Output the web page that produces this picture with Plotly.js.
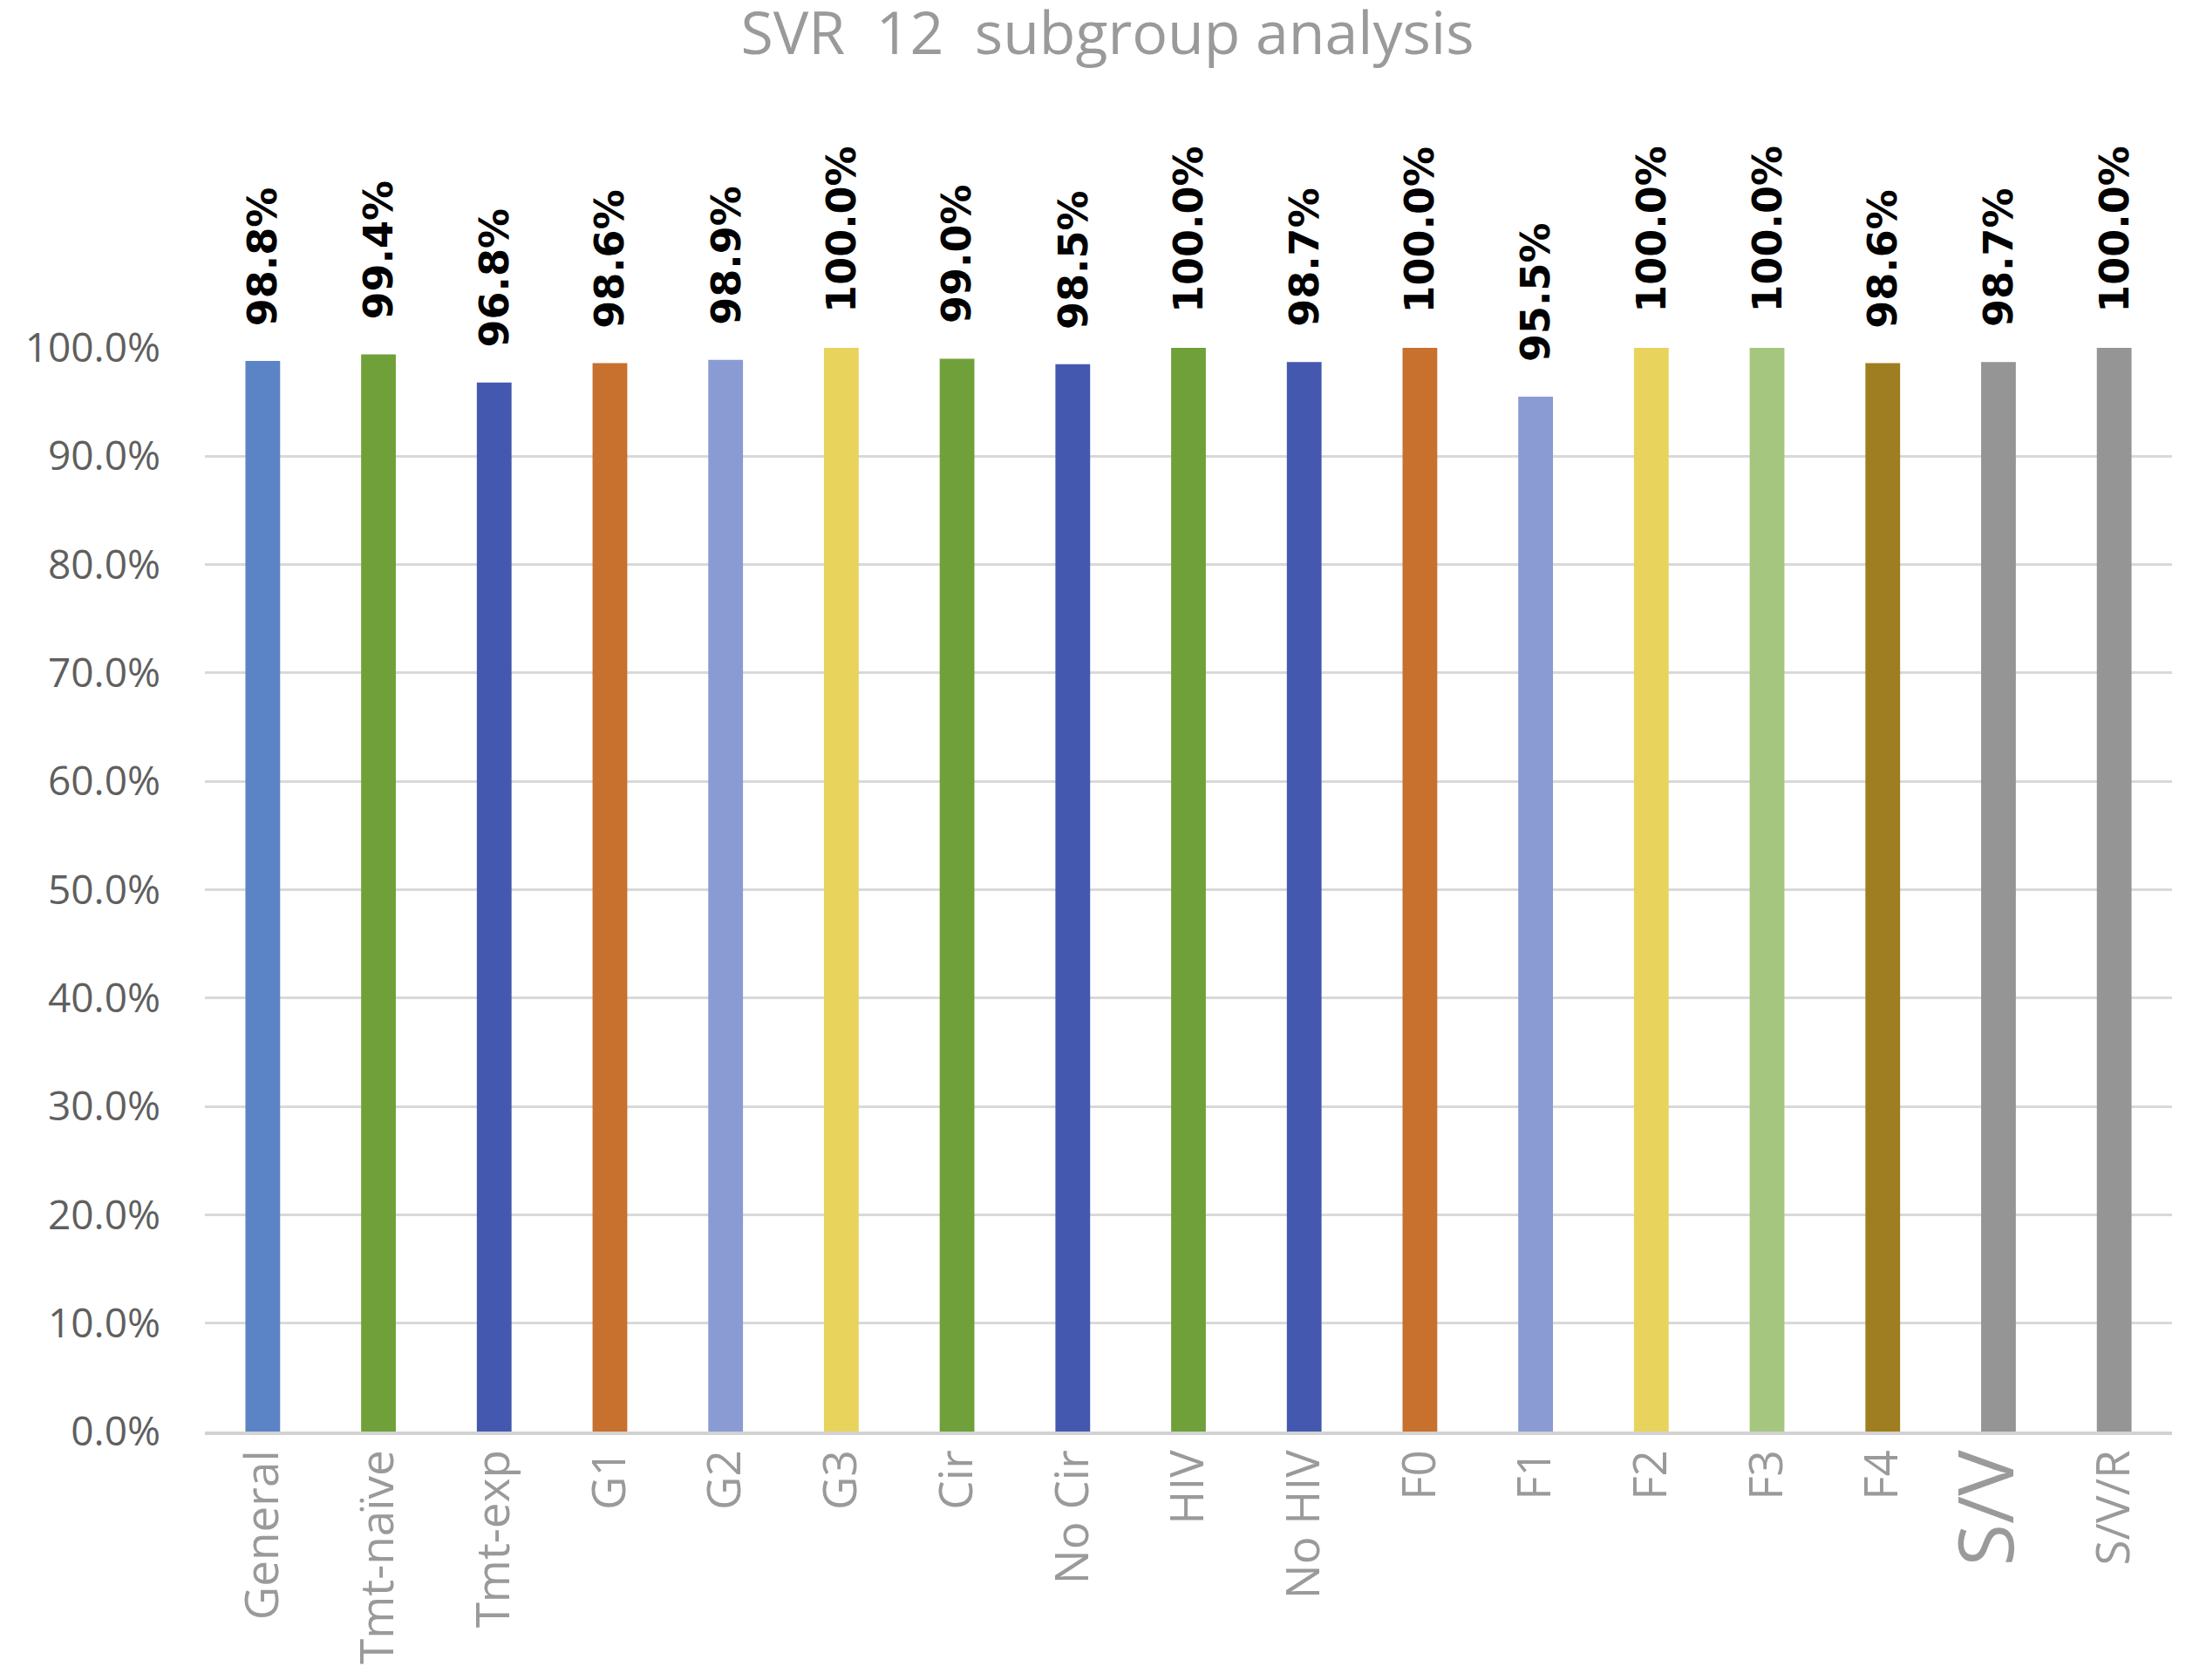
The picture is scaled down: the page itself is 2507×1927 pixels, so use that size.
<!DOCTYPE html>
<html>
<head>
<meta charset="utf-8">
<script src="https://cdn.plot.ly/plotly-3.0.1.min.js"></script>
<style>
  html, body { margin: 0; padding: 0; background: #ffffff; }
  #chart { width: 2507px; height: 1927px; }
</style>
</head>
<body>
<div id="chart"></div>
<script>
// Данные
const categories = [
  "General", "Tmt-naïve", "Tmt-exp", "G1", "G2", "G3", "Cir", "No Cir",
  "HIV", "No HIV", "F0", "F1", "F2", "F3", "F4", "S/V", "S/V/R"
];
const svrValues = [
  98.8, 99.4, 96.8, 98.6, 98.9, 100.0, 99.0, 98.5,
  100.0, 98.7, 100.0, 95.5, 100.0, 100.0, 98.6, 98.7, 100.0
];
const barColors = [
  "#5b84c6", "#70a03a", "#4558b0", "#c8702e", "#8a9bd3", "#e8d35c",
  "#70a03a", "#4558b0", "#70a03a", "#4558b0", "#c8702e", "#8a9bd3",
  "#e8d35c", "#a5c67e", "#9e7e20", "#959595", "#959595"
];
const yTickValues = [0, 10, 20, 30, 40, 50, 60, 70, 80, 90, 100];

// Подписи оси X (метка S/V в оригинале крупнее остальных)
const xTickText = categories.map((c) =>
  c === "S/V" ? `<span style="font-size:88px">${c}</span>` : c
);

const trace = {
  type: "bar",
  x: categories,
  y: svrValues,
  marker: { color: barColors },
  hoverinfo: "x+y",
};

// Подписи значений над столбцами
const valueLabels = categories.map((c, i) => ({
  x: c,
  y: svrValues[i],
  xref: "x",
  yref: "y",
  text: svrValues[i].toFixed(1) + "%",
  textangle: -90,
  showarrow: false,
  xanchor: "center",
  yanchor: "bottom",
  yshift: 38,
  font: { family: "DejaVu Sans", size: 46, color: "#000000", weight: "bold" },
}));

const layout = {
  width: 2507,
  height: 1927,
  paper_bgcolor: "#ffffff",
  plot_bgcolor: "#ffffff",
  margin: { l: 235, r: 16, t: 399, b: 285 },
  showlegend: false,
  bargap: 0.7,
  title: {
    text: "SVR&nbsp;&nbsp;12&nbsp;&nbsp;subgroup analysis",
    font: { family: "Open Sans", size: 68, color: "#9a9a9a" },
    x: 0.5066,
    xref: "container",
    xanchor: "center",
    y: 0.98,
    yref: "container",
    yanchor: "middle",
  },
  xaxis: {
    type: "category",
    tickmode: "array",
    tickvals: categories,
    ticktext: xTickText,
    tickangle: -90,
    ticks: "",
    ticklabelstandoff: -4,
    tickfont: { family: "Open Sans", size: 53, color: "#9a9a9a" },
    showline: true,
    linecolor: "#d2d2d2",
    linewidth: 4,
    showgrid: false,
    zeroline: false,
  },
  yaxis: {
    range: [0, 100],
    tickmode: "array",
    tickvals: yTickValues,
    ticktext: yTickValues.map((v) => v.toFixed(1) + "%"),
    ticks: "",
    ticklabelstandoff: 50,
    tickfont: { family: "Open Sans", size: 46, color: "#5f5f5f" },
    showgrid: true,
    gridcolor: "#d9d9d9",
    gridwidth: 3,
    zeroline: false,
    showline: false,
  },
  annotations: valueLabels,
};

const config = { staticPlot: true, responsive: false };

Plotly.newPlot("chart", [trace], layout, config);
</script>
</body>
</html>
